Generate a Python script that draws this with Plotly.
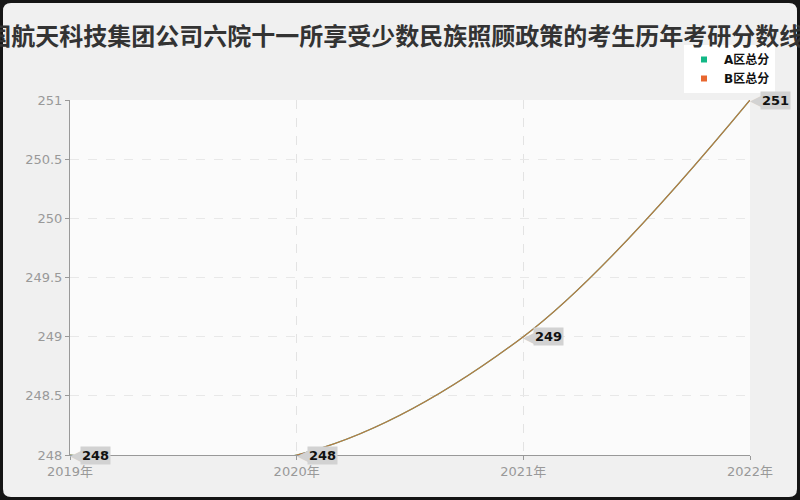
import plotly.graph_objects as go

years = ["2019年", "2020年", "2021年", "2022年"]
score_a = [248, 248, 249, 251]
score_b = [248, 248, 249, 251]
series_names = ["A区总分", "B区总分"]
title = "中国航天科技集团公司六院十一所享受少数民族照顾政策的考生历年考研分数线"

green = "#12b886"
orange = "#e8672f"
cjk = "Noto Sans CJK SC"
latin = "DejaVu Sans, Noto Sans CJK SC"

# plot area in pixels: x 70..750, y 100..455
L, R, T, B = 70, 50, 100, 45
PW, PH = 800 - L - R, 500 - T - B


def px(x):
    return (x - L) / PW


def py(y):
    return 1 - (y - T) / PH


fig = go.Figure()

# the two series share values, so they overlap
fig.add_trace(go.Scatter(x=years, y=score_a, mode="lines", name=series_names[0],
                         line=dict(color=green, width=1.2, shape="spline"), showlegend=False))
fig.add_trace(go.Scatter(x=years, y=score_b, mode="lines", name=series_names[1],
                         line=dict(color=orange, width=1.2, shape="spline"), opacity=0.8,
                         showlegend=False))

# legend entries as small squares
for name, col in zip(series_names, [green, orange]):
    fig.add_trace(go.Scatter(x=[None], y=[None], mode="markers", name="<b>%s</b>" % name,
                             marker=dict(color=col, symbol="square", size=6)))

# value labels: grey tag with a left pointing tip
for x, y in zip(years, score_b):
    fig.add_annotation(x=x, y=y, text="◀", showarrow=False, xanchor="left", yanchor="middle",
                       xshift=-2, font=dict(color="#d2d2d2", size=17, family="DejaVu Sans"))
    fig.add_annotation(x=x, y=y, text="<b>%d</b>" % y, showarrow=False, xanchor="left",
                       yanchor="middle", xshift=10, bgcolor="#d2d2d2", borderpad=1,
                       font=dict(color="#111", size=13, family=latin))

# rounded light panel on a dark page, then the plot background
r = 8
x0, x1, y0, y1 = 3, 797, 3, 497
path = (f"M {px(x0 + r)},{py(y0)} L {px(x1 - r)},{py(y0)} Q {px(x1)},{py(y0)} {px(x1)},{py(y0 + r)} "
        f"L {px(x1)},{py(y1 - r)} Q {px(x1)},{py(y1)} {px(x1 - r)},{py(y1)} "
        f"L {px(x0 + r)},{py(y1)} Q {px(x0)},{py(y1)} {px(x0)},{py(y1 - r)} "
        f"L {px(x0)},{py(y0 + r)} Q {px(x0)},{py(y0)} {px(x0 + r)},{py(y0)} Z")
fig.add_shape(type="path", xref="paper", yref="paper", path=path, fillcolor="#f0f0f0",
              line=dict(width=0), layer="below")
fig.add_shape(type="rect", xref="paper", yref="paper", x0=0, x1=1, y0=0, y1=1,
              fillcolor="#fbfbfb", line=dict(width=0), layer="below")

fig.update_layout(
    width=800, height=500,
    paper_bgcolor="#151515", plot_bgcolor="#fbfbfb",
    margin=dict(l=L, r=R, t=T, b=B),
    font=dict(family=latin, color="#999"),
    title=dict(text="<b>%s</b>" % title, x=0.479, xanchor="center", y=1 - 37 / 500,
               yanchor="middle", font=dict(size=24, color="#333", family=cjk)),
    legend=dict(x=px(775), xanchor="right", y=py(45), yanchor="top", bgcolor="white",
                font=dict(size=12, color="#111", family=latin), tracegroupgap=0,
                itemwidth=30),
    xaxis=dict(type="category", range=[0, 3], showgrid=True, gridcolor="#e3e3e3", griddash="dash",
               showline=True, linecolor="#999", linewidth=1, ticks="outside", ticklen=4,
               tickcolor="#999", tickfont=dict(size=13, color="#999"), zeroline=False),
    yaxis=dict(range=[248, 251], dtick=0.5, showgrid=True, gridcolor="#e8e8e8", griddash="dash",
               showline=True, linecolor="#999", linewidth=1, ticks="outside", ticklen=4,
               tickcolor="#999", tickfont=dict(size=13, color="#999"), zeroline=False),
)

fig.write_html("out.html", config={"displayModeBar": False},
               post_script="document.body.style.margin='0';")
